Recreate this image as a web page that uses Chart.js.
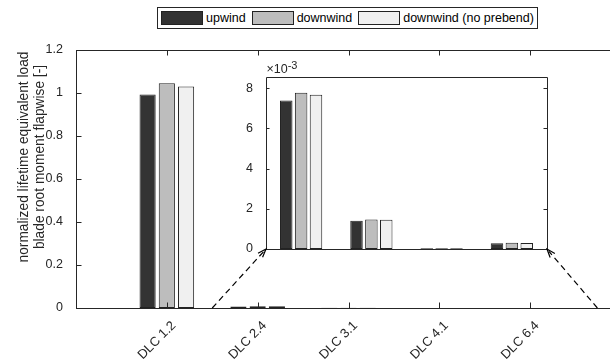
<!DOCTYPE html>
<html>
<head>
<meta charset="utf-8">
<script src="https://cdn.jsdelivr.net/npm/chart.js@4/dist/chart.umd.min.js"></script>
<style>
html, body { margin: 0; padding: 0; width: 610px; height: 364px; overflow: hidden; background: #fff; }
#main, #inset { position: absolute; left: 0; top: 0; }
#legend {
  position: absolute; left: 157px; top: 7px; height: 20px;
  border: 1px solid #262626; background: #fff;
  display: flex; align-items: center; padding: 0 3px;
  font: 12.5px "Liberation Sans", Arial, sans-serif; color: #000;
}
#legend .sw { width: 40px; height: 12px; border: 1px solid #222; margin-right: 3px; }
#legend .lb { margin-right: 6px; white-space: nowrap; }
#legend .lb:last-child { margin-right: 0; }
</style>
</head>
<body>
<canvas id="main" width="640" height="364"></canvas>
<canvas id="inset" width="610" height="364"></canvas>
<div id="legend"></div>
<script>
const categories = ["DLC 1.2", "DLC 2.4", "DLC 3.1", "DLC 4.1", "DLC 6.4"];
const upwind = [0.993, 0.00738, 0.00140, 0.00004, 0.00028];
const downwind = [1.045, 0.00777, 0.00147, 0.00004, 0.00031];
const downwindNoPrebend = [1.03, 0.00767, 0.00146, 0.00004, 0.00030];
const seriesNames = ["upwind", "downwind", "downwind (no prebend)"];
const seriesColors = ["#333333", "#bdbdbd", "#f0f0f0"];
const mainYTicks = [0, 0.2, 0.4, 0.6, 0.8, 1, 1.2];
const insetYTicks = [0, 0.002, 0.004, 0.006, 0.008];
const yTitle = ["normalized lifetime equivalent load", "blade root moment flapwise [-]"];

const axisColor = "#262626";
Chart.defaults.font.family = "'Liberation Sans', Arial, sans-serif";
Chart.defaults.font.size = 12.5;
Chart.defaults.color = axisColor;

// legend (html)
const legend = document.getElementById("legend");
seriesNames.forEach((name, i) => {
  const sw = document.createElement("div");
  sw.className = "sw";
  sw.style.background = seriesColors[i];
  const lb = document.createElement("div");
  lb.className = "lb";
  lb.textContent = name;
  legend.appendChild(sw);
  legend.appendChild(lb);
});

const allSeries = [upwind, downwind, downwindNoPrebend];

function fmt(v) {
  return String(+v.toFixed(3));
}

function crisp(v) {
  return Math.round(v) + 0.5;
}

const mainBox = {
  id: "mainBox",
  afterDraw(chart) {
    const c = chart.ctx;
    const a = chart.chartArea;
    const xs = chart.scales.x, ys = chart.scales.y;
    c.save();
    c.strokeStyle = axisColor;
    c.lineWidth = 1;
    c.beginPath();
    c.moveTo(crisp(a.right), crisp(a.top));
    c.lineTo(crisp(a.left), crisp(a.top));
    c.lineTo(crisp(a.left), crisp(a.bottom));
    c.lineTo(crisp(a.right), crisp(a.bottom));
    c.lineTo(crisp(a.right), crisp(a.top));
    // inward ticks
    categories.forEach((cat, i) => {
      const x = crisp(xs.getPixelForValue(i + 1));
      c.moveTo(x, a.bottom);
      c.lineTo(x, a.bottom - 5.5);
      c.moveTo(x, a.top);
      c.lineTo(x, a.top + 5.5);
    });
    mainYTicks.forEach((v) => {
      const y = crisp(ys.getPixelForValue(v));
      c.moveTo(a.left, y);
      c.lineTo(a.left + 5.5, y);
      c.moveTo(a.right, y);
      c.lineTo(a.right - 5.5, y);
    });
    c.stroke();
    // y axis title, two lines
    c.fillStyle = axisColor;
    c.font = "13.75px 'Liberation Sans', Arial, sans-serif";
    c.textAlign = "center";
    c.textBaseline = "middle";
    c.translate(24, 157);
    c.rotate(-Math.PI / 2);
    c.fillText(yTitle[0], 0, 0);
    c.fillText(yTitle[1], 0, 16);
    c.restore();
  }
};

const mainChart = new Chart(document.getElementById("main"), {
  type: "bar",
  data: {
    datasets: allSeries.map((vals, k) => ({
      label: seriesNames[k],
      data: vals.map((v, i) => ({ x: i + 1, y: v })),
      backgroundColor: seriesColors[k],
      borderColor: "#222",
      borderWidth: 1,
      borderSkipped: false,
      categoryPercentage: 0.635,
      barPercentage: 0.84,
    })),
  },
  options: {
    responsive: false,
    animation: false,
    layout: { padding: { top: 50, right: 19, left: 0, bottom: 0 } },
    plugins: { legend: { display: false }, tooltip: { enabled: false } },
    scales: {
      x: {
        type: "linear",
        offset: false,
        min: 0,
        max: 6,
        grid: { display: false },
        border: { display: false },
        afterBuildTicks: (s) => { s.ticks = categories.map((c, i) => ({ value: i + 1 })); },
        afterFit: (s) => { s.height = 56; },
        ticks: {
          autoSkip: false,
          minRotation: 45,
          maxRotation: 45,
          padding: 2,
          labelOffset: 7,
          font: { size: 13 },
          callback: (v) => categories[v - 1] || "",
        },
      },
      y: {
        min: 0,
        max: 1.2,
        grid: { display: false },
        border: { display: false },
        afterBuildTicks: (s) => { s.ticks = mainYTicks.map((v) => ({ value: v })); },
        afterFit: (s) => { s.width = 76; },
        ticks: { padding: 5, callback: (v) => fmt(v) },
      },
    },
  },
  plugins: [mainBox],
});

const insetBox = {
  id: "insetBox",
  beforeDraw(chart) {
    const c = chart.ctx;
    const a = chart.chartArea;
    c.save();
    c.fillStyle = "#fff";
    c.fillRect(a.left, a.top, a.right - a.left, a.bottom - a.top);
    c.restore();
  },
  afterDraw(chart) {
    const c = chart.ctx;
    const a = chart.chartArea;
    const ys = chart.scales.y;
    c.save();
    c.strokeStyle = axisColor;
    c.lineWidth = 1;
    c.beginPath();
    c.rect(crisp(a.left), crisp(a.top), Math.round(a.right - a.left), Math.round(a.bottom - a.top));
    insetYTicks.forEach((v) => {
      const y = crisp(ys.getPixelForValue(v));
      c.moveTo(a.left, y);
      c.lineTo(a.left + 3.5, y);
      c.moveTo(a.right, y);
      c.lineTo(a.right - 3.5, y);
    });
    c.stroke();
    // exponent label
    c.fillStyle = axisColor;
    c.textBaseline = "alphabetic";
    c.textAlign = "left";
    c.font = "12.5px 'Liberation Sans', Arial, sans-serif";
    c.fillText("\u00d710", a.left + 0.5, a.top - 4);
    const w = c.measureText("\u00d710").width;
    c.font = "11px 'Liberation Sans', Arial, sans-serif";
    c.fillText("-3", a.left + 0.5 + w, a.top - 8);
    // dashed zoom arrows from main axis to inset corners
    const mx = mainChart.scales.x, my = mainChart.scales.y;
    const base = my.getPixelForValue(0);
    const arrows = [
      [mx.getPixelForValue(1.5), base, a.left, a.bottom],
      [mx.getPixelForValue(5.74), base, a.right, a.bottom],
    ];
    c.strokeStyle = "#000";
    c.lineWidth = 1.2;
    arrows.forEach(([x0, y0, x1, y1]) => {
      const ang = Math.atan2(y1 - y0, x1 - x0);
      c.setLineDash([6, 4]);
      c.beginPath();
      c.moveTo(x0, y0);
      c.lineTo(x1 - 3 * Math.cos(ang), y1 - 3 * Math.sin(ang));
      c.stroke();
      c.setLineDash([]);
      c.beginPath();
      c.moveTo(x1 - 9 * Math.cos(ang - 0.35), y1 - 9 * Math.sin(ang - 0.35));
      c.lineTo(x1, y1);
      c.lineTo(x1 - 9 * Math.cos(ang + 0.35), y1 - 9 * Math.sin(ang + 0.35));
      c.stroke();
    });
    c.restore();
  }
};

const insetChart = new Chart(document.getElementById("inset"), {
  type: "bar",
  data: {
    labels: categories.slice(1),
    datasets: allSeries.map((vals, k) => ({
      label: seriesNames[k],
      data: vals.slice(1),
      backgroundColor: seriesColors[k],
      borderColor: "#222",
      borderWidth: 1,
      borderSkipped: false,
      categoryPercentage: 0.635,
      barPercentage: 0.84,
    })),
  },
  options: {
    responsive: false,
    animation: false,
    layout: { padding: { top: 77, right: 63, left: 0, bottom: 0 } },
    plugins: { legend: { display: false }, tooltip: { enabled: false } },
    scales: {
      x: {
        grid: { display: false },
        border: { display: false },
        ticks: { display: false },
        afterFit: (s) => { s.height = 115; },
      },
      y: {
        min: 0,
        max: 0.00855,
        grid: { display: false },
        border: { display: false },
        afterBuildTicks: (s) => { s.ticks = insetYTicks.map((v) => ({ value: v })); },
        afterFit: (s) => { s.width = 266; },
        ticks: { padding: 5, callback: (v) => fmt(v * 1000) },
      },
    },
  },
  plugins: [insetBox],
});
</script>
</body>
</html>
